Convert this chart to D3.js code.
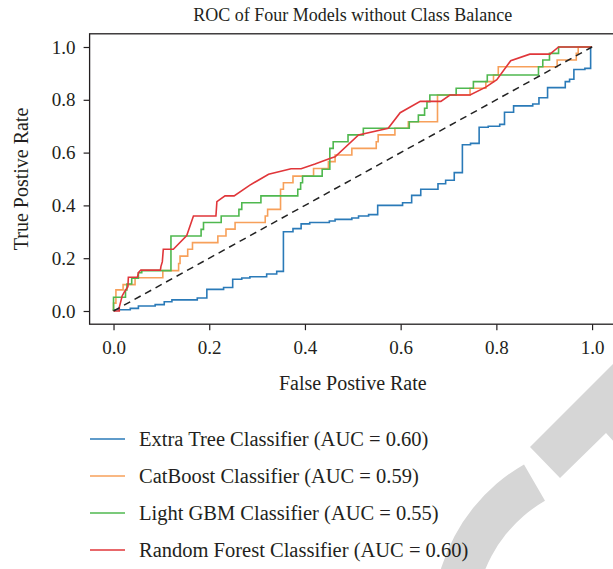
<!DOCTYPE html>
<html><head><meta charset="utf-8">
<script src="https://cdn.jsdelivr.net/npm/d3@7"></script>
<style>
html,body{margin:0;padding:0;background:#fff;}
svg text{font-family:"Liberation Serif","Times New Roman",serif;fill:#231f20;}
</style></head>
<body><svg id="c" width="613" height="569"></svg>
<script>
const title = "ROC of Four Models without Class Balance";
const xLabel = "False Postive Rate";
const yLabel = "True Postive Rate";
const tickValues = [0, 0.2, 0.4, 0.6, 0.8, 1.0];
const modelNames = ["Extra Tree Classifier (AUC = 0.60)", "CatBoost Classifier (AUC = 0.59)",
  "Light GBM Classifier (AUC = 0.55)", "Random Forest Classifier (AUC = 0.60)"];
const colors = ["#2a7ab8", "#f7a05a", "#4fb84f", "#e0363a"];

// step curves: [fpr, tpr after rise]
const extraTree = [[0,0],[0,0.005],[0.035,0.01],[0.052,0.019],[0.087,0.024],[0.106,0.035],[0.122,0.042],[0.175,0.049],[0.195,0.082],[0.23,0.089],[0.249,0.12],[0.268,0.125],[0.285,0.13],[0.32,0.14],[0.341,0.15],[0.355,0.30],[0.375,0.312],[0.392,0.33],[0.41,0.335],[0.451,0.341],[0.463,0.347],[0.498,0.352],[0.512,0.36],[0.533,0.365],[0.552,0.40],[0.604,0.41],[0.623,0.438],[0.642,0.461],[0.678,0.482],[0.694,0.495],[0.712,0.524],[0.729,0.63],[0.746,0.635],[0.764,0.696],[0.783,0.70],[0.807,0.707],[0.817,0.753],[0.836,0.777],[0.876,0.784],[0.889,0.808],[0.907,0.846],[0.944,0.869],[0.953,0.878],[0.962,0.915],[0.985,0.919],[0.997,1],[1,1]];
const catBoost = [[0,0],[0,0.03],[0.005,0.08],[0.02,0.1],[0.045,0.126],[0.103,0.153],[0.136,0.18],[0.139,0.208],[0.155,0.234],[0.165,0.259],[0.218,0.284],[0.235,0.31],[0.254,0.335],[0.317,0.36],[0.322,0.385],[0.349,0.461],[0.355,0.486],[0.375,0.511],[0.418,0.54],[0.449,0.566],[0.463,0.591],[0.498,0.616],[0.549,0.641],[0.553,0.667],[0.588,0.692],[0.616,0.717],[0.677,0.818],[0.745,0.844],[0.778,0.869],[0.794,0.894],[0.804,0.925],[0.927,0.951],[0.967,0.976],[0.971,1],[1,1]];
const lightGbm = [[0,0],[0,0.052],[0.025,0.08],[0.028,0.102],[0.038,0.124],[0.052,0.145],[0.059,0.153],[0.12,0.284],[0.183,0.309],[0.188,0.335],[0.225,0.36],[0.262,0.385],[0.268,0.41],[0.308,0.436],[0.385,0.461],[0.391,0.486],[0.395,0.511],[0.436,0.537],[0.452,0.616],[0.459,0.641],[0.49,0.667],[0.522,0.692],[0.618,0.717],[0.637,0.742],[0.65,0.768],[0.655,0.793],[0.661,0.818],[0.716,0.844],[0.752,0.869],[0.781,0.894],[0.888,0.925],[0.897,0.951],[0.911,0.976],[0.93,1],[1,1]];
// linear curve: [fpr, tpr]
const randomForest = [[0,0],[0.012,0],[0.012,0.014],[0.016,0.042],[0.018,0.057],[0.023,0.073],[0.03,0.092],[0.031,0.128],[0.05,0.128],[0.052,0.145],[0.057,0.155],[0.098,0.155],[0.099,0.168],[0.102,0.187],[0.104,0.234],[0.125,0.234],[0.153,0.286],[0.167,0.36],[0.214,0.36],[0.216,0.414],[0.233,0.436],[0.252,0.436],[0.285,0.477],[0.324,0.518],[0.371,0.539],[0.392,0.539],[0.421,0.557],[0.452,0.578],[0.463,0.584],[0.512,0.667],[0.574,0.692],[0.599,0.751],[0.641,0.794],[0.684,0.794],[0.703,0.818],[0.745,0.818],[0.778,0.848],[0.801,0.876],[0.83,0.948],[0.87,0.973],[0.912,0.973],[0.93,1],[1,1]];
const chance = [[0,0],[1,1]];

const svg = d3.select("#c");
const x = d3.scaleLinear().domain([-0.05, 1.05]).range([89.6, 616]);
const y = d3.scaleLinear().domain([-0.05, 1.05]).range([324.2, 33.8]);

// watermark (decorative)
const wm = svg.append("g").attr("fill", "#d6d6d6");
wm.append("path").attr("transform", "translate(615,622)")
  .attr("d", d3.arc().innerRadius(140).outerRadius(182).startAngle(-115*Math.PI/180).endAngle(-30*Math.PI/180)());
wm.append("path").attr("d", "M530,447 L616,361 L616,444 L606,433 L560,478 Z");

// curves
const stepLine = d3.line().x(d => x(d[0])).y(d => y(d[1])).curve(d3.curveStepAfter);
const lin = d3.line().x(d => x(d[0])).y(d => y(d[1]));
const g = svg.append("g");
[[extraTree, stepLine], [catBoost, stepLine], [lightGbm, stepLine], [randomForest, lin]].forEach((s, i) => {
  g.append("path").attr("d", s[1](s[0])).attr("fill", "none").attr("stroke", colors[i])
    .attr("stroke-width", 1.6).attr("stroke-linejoin", "miter");
});
g.append("path").attr("d", lin(chance)).attr("fill", "none").attr("stroke", "#222")
  .attr("stroke-width", 1.5).attr("stroke-dasharray", "7,5");

// axes
const fmt = d3.format(".1f");
const xa = svg.append("g").attr("transform", "translate(0,324.2)")
  .call(d3.axisBottom(x).tickValues(tickValues).tickFormat(fmt).tickSize(6).tickPadding(10).tickSizeOuter(0));
const ya = svg.append("g").attr("transform", "translate(89.6,0)")
  .call(d3.axisLeft(y).tickValues(tickValues).tickFormat(fmt).tickSize(6).tickPadding(8).tickSizeOuter(0));
[xa, ya].forEach(a => {
  a.select(".domain").remove();
  a.selectAll("line").attr("stroke", "#231f20").attr("stroke-width", 1.2);
  a.selectAll("text").style("font-size", "19px").style("font-family", '"Liberation Serif",serif').attr("fill", "#231f20");
});
svg.append("rect").attr("x", 89.6).attr("y", 33.8).attr("width", 616 - 89.6).attr("height", 324.2 - 33.8)
  .attr("fill", "none").attr("stroke", "#231f20").attr("stroke-width", 1.3);

// labels
svg.append("text").attr("x", 352.8).attr("y", 21).attr("text-anchor", "middle").style("font-size", "18px").text(title);
svg.append("text").attr("x", 352.8).attr("y", 390).attr("text-anchor", "middle").style("font-size", "20px").text(xLabel);
svg.append("text").attr("transform", "translate(28,179) rotate(-90)").attr("text-anchor", "middle").style("font-size", "20px").text(yLabel);

// legend
const lg = svg.append("g");
modelNames.forEach((n, i) => {
  const yy = 439 + i * 37;
  lg.append("line").attr("x1", 90).attr("x2", 125).attr("y1", yy).attr("y2", yy).attr("stroke", colors[i]).attr("stroke-width", 1.6);
  lg.append("text").attr("x", 139).attr("y", yy).attr("dy", "0.35em").style("font-size", "20.5px").text(n);
});
</script></body></html>
